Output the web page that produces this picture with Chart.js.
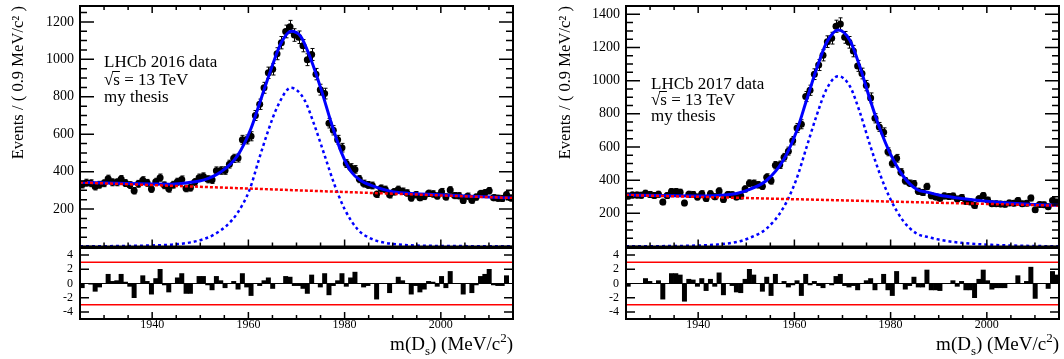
<!DOCTYPE html>
<html><head><meta charset="utf-8">
<script src="https://cdn.jsdelivr.net/npm/chart.js@4.4.1/dist/chart.umd.min.js"></script>
<style>
html,body{margin:0;padding:0;background:#fff;}
body{width:1064px;height:359px;position:relative;overflow:hidden;}
canvas{position:absolute;}
</style></head><body>
<canvas id="topL" width="530" height="250" style="left:0px;top:0px"></canvas>
<canvas id="pullL" width="530" height="119" style="left:0px;top:240px"></canvas>
<canvas id="topR" width="534" height="250" style="left:530px;top:0px"></canvas>
<canvas id="pullR" width="534" height="119" style="left:530px;top:240px"></canvas>
<script>
// ---------- binning & tick labels ----------
const binLow = 1925, binHigh = 2015, binWidth = 0.9, nBins = 100;
const xTicks = [1940, 1960, 1980, 2000];
const yTicksL = [200, 400, 600, 800, 1000, 1200];
const yTicksR = [200, 400, 600, 800, 1000, 1200, 1400];
const pullTicks = [-4, -2, 0, 2, 4];
const pullLimit = 3;

// ---------- 2016 (left) ----------
const countsL = [
 331,341,338,320,330,338,362,343,343,360,
 339,328,298,335,354,340,307,346,368,327,
 308,330,346,358,310,314,344,368,374,359,
 356,405,406,406,440,471,473,570,572,589,
 700,760,848,928,947,1030,1089,1149,1174,1130,
 1118,1073,998,1026,921,838,817,659,621,570,
 528,443,422,412,360,336,329,326,279,311,
 305,276,292,305,295,286,259,277,261,267,
 284,281,270,293,265,302,272,271,246,269,
 247,264,283,287,298,261,258,257,278,259];
const pullsL = [
 -0.6,0.0,-0.1,-1.1,-0.5,0.0,1.3,0.3,0.4,1.3,
 0.2,-0.4,-2.0,0.0,1.1,0.3,-1.5,0.7,2.0,-0.2,
 -1.2,0.0,0.8,1.4,-1.4,-1.4,0.0,1.0,1.0,-0.2,
 -0.9,1.0,0.4,-0.6,0.0,0.3,-0.8,1.4,-0.5,-1.7,
 0.0,-0.3,0.4,0.8,-0.7,0.0,0.0,1.0,0.9,-0.3,
 -0.3,-0.7,-1.4,1.2,0.0,-0.5,1.4,-1.6,-0.3,0.4,
 1.4,-0.4,0.8,1.6,0.0,-0.5,-0.3,0.0,-2.2,0.0,
 0.0,-1.3,0.0,0.9,0.4,0.0,-1.5,-0.3,-1.2,-0.8,
 0.3,0.2,-0.4,1.0,-0.6,1.7,0.0,0.0,-1.5,0.0,
 -1.3,-0.2,1.0,1.3,2.0,-0.2,-0.3,-0.3,1.1,0.0];
const fitMassL = [1925,1935,1940,1944,1948,1950.8,1954.25,1957.75,1960.5,1962.6,1964.7,1966.8,1968.85,1970.9,1973.0,1975.1,1977.2,1979.3,1981.4,1983.5,1985.5,1990,1995,2000,2005,2010,2015];
const fitTotL  = [343,336,334,333,343,356,398,486,628,787,946,1087,1150,1122,999,841,663,504,398,350,327,293,282,276,270,265,259];
const sigMassL = [1925,1935,1940,1944,1948,1951,1953,1955.5,1957.75,1960.2,1962.25,1964,1966.1,1968.85,1971.6,1973.7,1975.8,1977.9,1980,1982.75,1985.5,1988,1991,1995,2000,2015];
const sigL     = [1,3,6,10,22,42,66,112,180,300,470,610,751,848,786,650,490,330,200,90,42,22,11,5,3,1];
const bkgMassL = [1925,2015];
const bkgL     = [342,259];

// ---------- 2017 (right) ----------
const countsR = [
 304,310,310,309,321,314,308,315,268,307,
 331,331,327,262,315,314,298,318,289,318,
 300,335,284,314,312,299,304,347,382,381,
 372,363,418,396,490,493,538,575,638,715,
 737,904,942,1039,1094,1153,1235,1256,1328,1342,
 1261,1231,1178,1089,1043,970,896,773,721,689,
 571,500,532,448,396,381,378,333,326,362,
 306,299,291,305,301,304,286,295,272,269,
 247,288,307,280,257,258,256,254,263,261,
 277,257,261,292,221,253,252,240,277,268];
const pullsR = [
 -0.4,0.0,0.0,0.0,0.7,0.3,0.0,0.4,-2.2,0.0,
 1.4,1.4,1.2,-2.5,0.6,0.5,-0.4,0.7,-1.0,0.6,
 -0.4,1.5,-1.6,0.0,-0.3,-1.2,-1.3,0.6,2.0,1.2,
 0.0,-1.1,0.9,-1.7,1.3,0.0,0.3,-0.5,-0.2,0.4,
 -1.7,1.3,-0.2,0.3,-0.3,-0.6,0.0,-0.2,1.0,1.3,
 -0.3,-0.5,-0.3,-0.9,0.0,0.4,0.7,-0.9,0.0,1.3,
 -0.9,-1.7,1.7,0.0,-0.8,-0.3,0.9,-0.5,-0.5,1.9,
 -0.9,-0.9,-1.0,0.0,0.0,0.4,-0.4,0.3,-0.9,-0.9,
 -2.0,0.6,1.9,0.4,-0.8,-0.6,-0.6,-0.6,0.0,0.0,
 1.1,0.0,0.3,2.3,-2.1,0.0,0.0,-0.7,1.7,1.2];
const fitMassR = [1925,1935,1940,1944,1948,1950.7,1954.2,1957.6,1960.4,1962.5,1964.6,1966.7,1969.1,1971.5,1973.6,1975.7,1977.8,1979.85,1982.6,1985.4,1988,1990,1994,2001,2008,2015];
const fitTotR  = [311,306,305,308,320,345,398,515,690,880,1070,1230,1306,1245,1085,888,708,565,425,345,325,310,292,270,256,248];
const sigR     = [1,3,6,12,27,52,108,228,404,596,788,950,1027,968,810,614,435,292,155,78,55,42,24,10,4,1];
const bkgMassR = [1925,2015];
const bkgR     = [310,246];

// ---------- helpers ----------
const FONT = 'Liberation Serif';
const binCenters = Array.from({length:nBins}, (_, i) => +(binLow + binWidth*(i+0.5)).toFixed(2));
const zip = (xs, ys) => xs.map((x, i) => ({x: x, y: ys[i]}));
function tickList(min, max, step, majors, lMaj, lMin) {
  const out = [];
  for (let v = min; v <= max + 1e-6; v += step) {
    const r = Math.round(v*1000)/1000;
    out.push([r, majors.includes(r) ? lMaj : lMin]);
  }
  return out;
}

function framePlugin(cfg) {
  return {
    id: 'frame',
    afterDraw(chart) {
      const ctx = chart.ctx, a = chart.chartArea, xs = chart.scales.x, ys = chart.scales.y;
      ctx.save();
      ctx.strokeStyle = '#000';
      ctx.lineWidth = 1.5;
      ctx.beginPath();
      cfg.xt.forEach(([v, L]) => {
        const px = xs.getPixelForValue(v);
        if (cfg.xBottom) { ctx.moveTo(px, a.bottom); ctx.lineTo(px, a.bottom - L); }
        if (cfg.xTop) { ctx.moveTo(px, a.top); ctx.lineTo(px, a.top + L); }
      });
      cfg.yt.forEach(([v, L]) => {
        const py = ys.getPixelForValue(v);
        ctx.moveTo(a.left, py); ctx.lineTo(a.left + L, py);
        ctx.moveTo(a.right, py); ctx.lineTo(a.right - L, py);
      });
      ctx.stroke();
      if (cfg.zeroLine) {
        ctx.lineWidth = 1;
        const p0 = ys.getPixelForValue(0);
        ctx.beginPath(); ctx.moveTo(a.left, p0); ctx.lineTo(a.right, p0); ctx.stroke();
      }
      ctx.lineWidth = 2;
      ctx.strokeRect(a.left, a.top, a.right - a.left, a.bottom - a.top);
      if (cfg.after) cfg.after(ctx, a);
      ctx.restore();
    }
  };
}

const errPlugin = {
  id: 'errbars',
  beforeDatasetsDraw(chart) {
    const ds = chart.data.datasets.find(d => d.label === 'data');
    if (!ds) return;
    const ctx = chart.ctx, xs = chart.scales.x, ys = chart.scales.y;
    ctx.save();
    ctx.strokeStyle = '#000'; ctx.lineWidth = 1;
    ctx.beginPath();
    ds.data.forEach(p => {
      const e = Math.sqrt(p.y);
      const px = Math.round(xs.getPixelForValue(p.x)) + 0.5;
      const y1 = ys.getPixelForValue(p.y + e), y2 = ys.getPixelForValue(p.y - e);
      ctx.moveTo(px, y1); ctx.lineTo(px, y2);
      ctx.moveTo(px - 2, y1); ctx.lineTo(px + 2, y1);
      ctx.moveTo(px - 2, y2); ctx.lineTo(px + 2, y2);
    });
    ctx.stroke();
    ctx.restore();
  }
};

function drawAnnot(ctx, x, ys, year) {
  ctx.font = '17px "' + FONT + '"';
  ctx.fillStyle = '#000'; ctx.strokeStyle = '#000';
  ctx.textAlign = 'left'; ctx.textBaseline = 'alphabetic';
  ctx.fillText('LHCb ' + year + ' data', x, ys[0]);
  const wr = ctx.measureText('√').width;
  ctx.fillText('√', x, ys[1]);
  ctx.fillText('s = 13 TeV', x + wr, ys[1]);
  const ws = ctx.measureText('s').width;
  ctx.lineWidth = 1;
  ctx.beginPath(); ctx.moveTo(x + wr - 1, ys[1] - 13.5); ctx.lineTo(x + wr + ws, ys[1] - 13.5); ctx.stroke();
  ctx.fillText('my thesis', x, ys[2]);
}

function drawXTitle(ctx, right, base) {
  const parts = [['m(D', 19, 0], ['s', 13, 5], [') (MeV/c', 19, 0], ['2', 13, -8], [')', 19, 0]];
  let w = 0;
  parts.forEach(p => { ctx.font = p[1] + 'px "' + FONT + '"'; p.push(ctx.measureText(p[0]).width); w += p[3]; });
  let x = right - w;
  ctx.fillStyle = '#000'; ctx.textAlign = 'left'; ctx.textBaseline = 'alphabetic';
  parts.forEach(p => { ctx.font = p[1] + 'px "' + FONT + '"'; ctx.fillText(p[0], x, base + p[2]); x += p[3]; });
}

const numLabel = v => String(v);

function topChart(id, o) {
  const ymajors = [0].concat(o.yTicks);
  return new Chart(document.getElementById(id), {
    type: 'scatter',
    data: { datasets: [
      { label: 'data', type: 'scatter', data: zip(binCenters, o.counts), pointRadius: 3.5, pointHoverRadius: 3.5,
        pointBackgroundColor: '#000', pointBorderColor: '#000', pointBorderWidth: 0, order: 4 },
      { label: 'total', type: 'line', data: zip(o.fitMass, o.fitTot), showLine: true, borderColor: '#0000ff',
        borderWidth: 3, pointRadius: 0, cubicInterpolationMode: 'monotone', fill: false, order: 3 },
      { label: 'signal', type: 'line', data: zip(o.sigMass, o.sig), showLine: true, borderColor: '#0000ff',
        borderWidth: 2.5, borderDash: [3, 3], pointRadius: 0, cubicInterpolationMode: 'monotone', fill: false, order: 2 },
      { label: 'bkg', type: 'line', data: zip(o.bkgMass, o.bkg), showLine: true, borderColor: '#ff0000',
        borderWidth: 2.5, borderDash: [3, 2], pointRadius: 0, fill: false, order: 1 }
    ]},
    options: {
      responsive: false, animation: false, devicePixelRatio: 1,
      layout: { padding: { left: 0, top: 6, right: o.padRight, bottom: 2 } },
      plugins: { legend: { display: false }, tooltip: { enabled: false } },
      scales: {
        x: { type: 'linear', min: binLow, max: binHigh, display: false },
        y: { type: 'linear', min: 0, max: o.ymax,
          afterBuildTicks: s => { s.ticks = o.yTicks.map(v => ({ value: v })); },
          afterFit: s => { s.width = o.axisW; s.paddingTop = 0; s.paddingBottom = 0; },
          grid: { display: false, drawTicks: false }, border: { display: false },
          ticks: { font: { family: FONT, size: 14 }, color: '#000', padding: 6, callback: numLabel },
          title: { display: true, text: 'Events / ( 0.9 MeV/c² )', align: 'end', color: '#000',
            font: { family: FONT, size: 16.6 }, padding: { top: o.titlePad, bottom: 0 } }
        }
      }
    },
    plugins: [errPlugin, framePlugin({
      xt: tickList(binLow, binHigh, 5, xTicks, 7, 4), xTop: true, xBottom: true,
      yt: tickList(0, o.ymax, 50, ymajors, 14, 7),
      after: (ctx) => drawAnnot(ctx, o.annotX, o.annotY, o.year)
    })]
  });
}

function pullChart(id, o) {
  return new Chart(document.getElementById(id), {
    type: 'bar',
    data: { datasets: [
      { label: 'pull', type: 'bar', data: zip(binCenters, o.pulls), backgroundColor: '#000', borderWidth: 0,
        barPercentage: 1, categoryPercentage: 1, grouped: false, order: 3 },
      { label: 'hi', type: 'line', data: zip([binLow, binHigh], [pullLimit, pullLimit]), borderColor: '#ff0000',
        borderWidth: 1.5, pointRadius: 0, fill: false, order: 1 },
      { label: 'lo', type: 'line', data: zip([binLow, binHigh], [-pullLimit, -pullLimit]), borderColor: '#ff0000',
        borderWidth: 1.5, pointRadius: 0, fill: false, order: 1 }
    ]},
    options: {
      responsive: false, animation: false, devicePixelRatio: 1,
      layout: { padding: { left: 0, top: 8, right: o.padRight, bottom: 0 } },
      plugins: { legend: { display: false }, tooltip: { enabled: false } },
      scales: {
        x: { type: 'linear', min: binLow, max: binHigh, offset: false,
          grid: { display: false, offset: false, drawTicks: false }, border: { display: false },
          afterBuildTicks: s => { s.ticks = xTicks.map(v => ({ value: v })); },
          afterFit: s => { s.height = 40; s.paddingLeft = 0; s.paddingRight = 0; },
          ticks: { font: { family: FONT, size: 12, lineHeight: 1 }, color: '#000', padding: 0,
            maxRotation: 0, autoSkip: false, callback: numLabel } },
        y: { type: 'linear', min: -5, max: 5,
          grid: { display: false, drawTicks: false }, border: { display: false },
          afterBuildTicks: s => { s.ticks = pullTicks.map(v => ({ value: v })); },
          afterFit: s => { s.width = o.axisW; s.paddingTop = 0; s.paddingBottom = 0; },
          ticks: { font: { family: FONT, size: 12 }, color: '#000', padding: 7, callback: numLabel } }
      }
    },
    plugins: [framePlugin({
      xt: tickList(binLow, binHigh, 5, xTicks, 7, 4), xTop: false, xBottom: true,
      yt: tickList(-4, 4, 2, [-4, 4], 9, 9).filter(t => t[0] !== 0),
      zeroLine: true,
      after: (ctx, a) => drawXTitle(ctx, a.right, 110)
    })]
  });
}

topChart('topL', { counts: countsL, fitMass: fitMassL, fitTot: fitTotL, sigMass: sigMassL, sig: sigL,
  bkgMass: bkgMassL, bkg: bkgL, ymax: 1285, yTicks: yTicksL, axisW: 80, padRight: 17, titlePad: 9,
  annotX: 104, annotY: [67, 85, 102], year: '2016' });
pullChart('pullL', { pulls: pullsL, axisW: 80, padRight: 17 });
topChart('topR', { counts: countsR, fitMass: fitMassR, fitTot: fitTotR, sigMass: fitMassR, sig: sigR,
  bkgMass: bkgMassR, bkg: bkgR, ymax: 1450, yTicks: yTicksR, axisW: 96, padRight: 5, titlePad: 26,
  annotX: 121, annotY: [89, 105, 121], year: '2017' });
pullChart('pullR', { pulls: pullsR, axisW: 96, padRight: 5 });
</script>
</body></html>
